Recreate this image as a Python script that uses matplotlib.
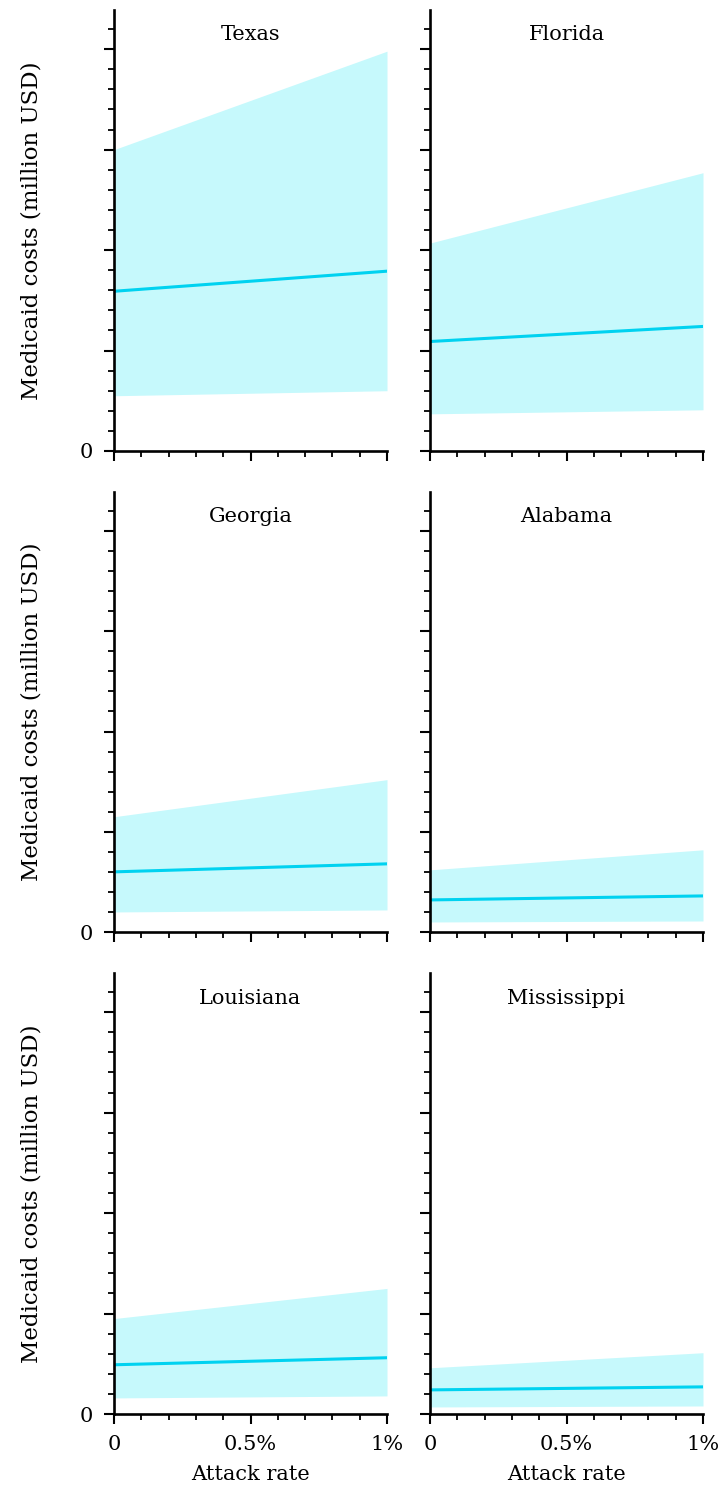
import matplotlib
matplotlib.use("Agg")
import matplotlib.pyplot as plt
from matplotlib.ticker import MultipleLocator, FixedLocator

plt.rcParams['font.family'] = ['DejaVu Serif']

states = ["Texas", "Florida", "Georgia", "Alabama", "Louisiana", "Mississippi"]
attack = [0.0, 1.0]  # attack rate, percent
mean_cost = [[1.59, 1.79], [1.09, 1.24], [0.60, 0.68], [0.32, 0.36], [0.49, 0.56], [0.24, 0.27]]
lower_cost = [[0.55, 0.60], [0.37, 0.41], [0.20, 0.22], [0.10, 0.11], [0.16, 0.18], [0.07, 0.08]]
upper_cost = [[3.00, 3.98], [2.07, 2.77], [1.15, 1.52], [0.62, 0.82], [0.95, 1.25], [0.46, 0.61]]
xtick_vals = [0.0, 0.5, 1.0]
xtick_labels = ["0", "0.5%", "1%"]

LINE = "#00d2f0"
FILL = "#c6f9fc"

W, H = 719, 1494
fig = plt.figure(figsize=(W / 100, H / 100), dpi=100)
col_left = [114, 430]
col_w = 273
rows = [(10, 451), (492, 932), (973, 1414)]

for i, name in enumerate(states):
    r, c = divmod(i, 2)
    top, bot = rows[r]
    ax = fig.add_axes([col_left[c] / W, (H - bot) / H, col_w / W, (bot - top) / H])
    ax.fill_between(attack, lower_cost[i], upper_cost[i], color=FILL, linewidth=0)
    ax.plot(attack, mean_cost[i], color=LINE, linewidth=2.2)
    ax.set_xlim(0, 1)
    ax.set_ylim(0, 4.39)
    for s in ["top", "right"]:
        ax.spines[s].set_visible(False)
    for s in ["left", "bottom"]:
        ax.spines[s].set_linewidth(1.9)
    ax.yaxis.set_major_locator(FixedLocator([0, 1, 2, 3, 4]))
    ax.yaxis.set_minor_locator(MultipleLocator(0.2))
    if c == 0:
        ax.set_yticklabels(["0", "", "", "", ""])
    else:
        ax.set_yticklabels([])
    ax.xaxis.set_major_locator(FixedLocator(xtick_vals))
    ax.xaxis.set_minor_locator(MultipleLocator(0.1))
    if r == 2:
        ax.set_xticklabels(xtick_labels)
        ax.set_xlabel("Attack rate", fontsize=15, labelpad=8)
    else:
        ax.set_xticklabels([])
    ax.tick_params(axis="both", which="major", length=7, width=1.5, labelsize=15, pad=8)
    ax.tick_params(axis="both", which="minor", length=4, width=1.3)
    if c == 0:
        ax.set_ylabel("Medicaid costs (million USD)", fontsize=16.5, labelpad=27)
    ax.text(0.5, 1 - 25 / (bot - top), name, transform=ax.transAxes,
            ha="center", va="center", fontsize=15)

fig.savefig("out.png", dpi=100)
